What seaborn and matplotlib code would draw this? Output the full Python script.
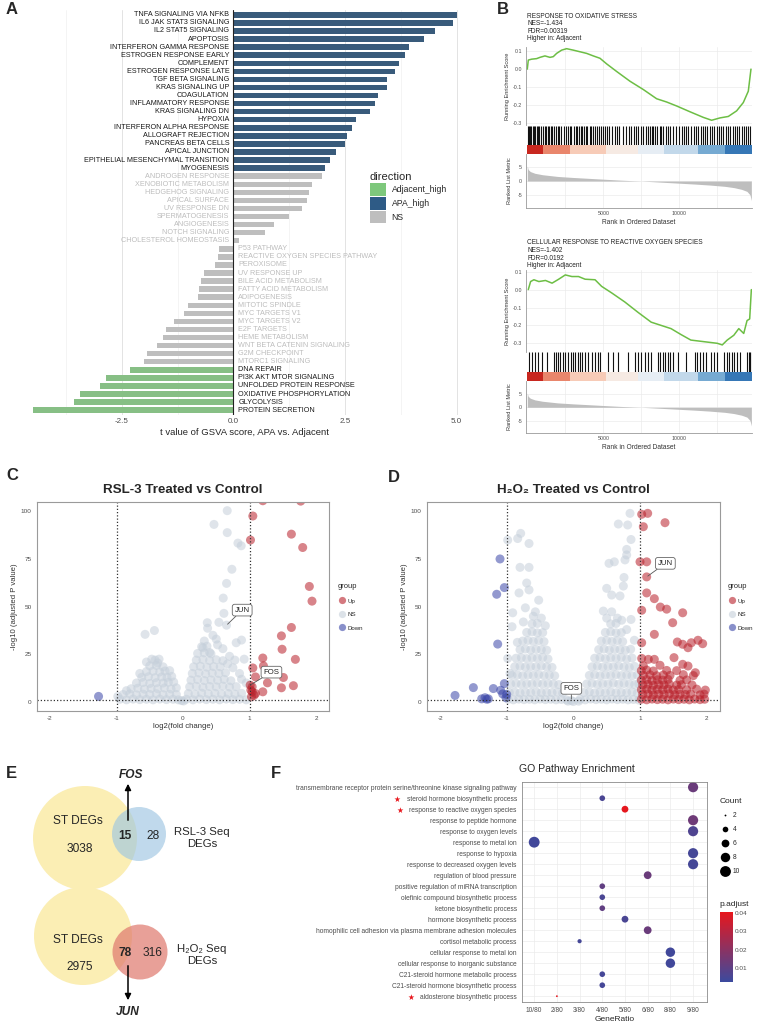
import pandas as pd
import seaborn as sns
import matplotlib.pyplot as plt
from matplotlib.patches import Circle, Patch
from matplotlib.lines import Line2D
from matplotlib.colors import LinearSegmentedColormap, Normalize
from matplotlib.colorbar import ColorbarBase

# ---------------- A: GSVA hallmark t values ----------------
hallmark = [
    "TNFA SIGNALING VIA NFKB", "IL6 JAK STAT3 SIGNALING", "IL2 STAT5 SIGNALING", "APOPTOSIS",
    "INTERFERON GAMMA RESPONSE", "ESTROGEN RESPONSE EARLY", "COMPLEMENT", "ESTROGEN RESPONSE LATE",
    "TGF BETA SIGNALING", "KRAS SIGNALING UP", "COAGULATION", "INFLAMMATORY RESPONSE",
    "KRAS SIGNALING DN", "HYPOXIA", "INTERFERON ALPHA RESPONSE", "ALLOGRAFT REJECTION",
    "PANCREAS BETA CELLS", "APICAL JUNCTION", "EPITHELIAL MESENCHYMAL TRANSITION", "MYOGENESIS",
    "ANDROGEN RESPONSE", "XENOBIOTIC METABOLISM", "HEDGEHOG SIGNALING", "APICAL SURFACE",
    "UV RESPONSE DN", "SPERMATOGENESIS", "ANGIOGENESIS", "NOTCH SIGNALING", "CHOLESTEROL HOMEOSTASIS",
    "P53 PATHWAY", "REACTIVE OXYGEN SPECIES PATHWAY", "PEROXISOME", "UV RESPONSE UP",
    "BILE ACID METABOLISM", "FATTY ACID METABOLISM", "ADIPOGENESIS", "MITOTIC SPINDLE",
    "MYC TARGETS V1", "MYC TARGETS V2", "E2F TARGETS", "HEME METABOLISM",
    "WNT BETA CATENIN SIGNALING", "G2M CHECKPOINT", "MTORC1 SIGNALING", "DNA REPAIR",
    "PI3K AKT MTOR SIGNALING", "UNFOLDED PROTEIN RESPONSE", "OXIDATIVE PHOSPHORYLATION",
    "GLYCOLYSIS", "PROTEIN SECRETION"]
t_value = [5.01, 4.92, 4.51, 4.26, 3.94, 3.84, 3.72, 3.63, 3.44, 3.44,
           3.23, 3.18, 3.05, 2.75, 2.65, 2.54, 2.49, 2.29, 2.17, 2.06,
           1.99, 1.76, 1.69, 1.64, 1.53, 1.24, 0.92, 0.71, 0.13,
           -0.33, -0.35, -0.41, -0.65, -0.73, -0.77, -0.80, -1.02, -1.10, -1.32,
           -1.50, -1.58, -1.70, -1.94, -2.00,
           -2.31, -2.85, -2.98, -3.44, -3.56, -4.49]
direction = ["APA_high"] * 20 + ["NS"] * 24 + ["Adjacent_high"] * 6
dir_order = ["Adjacent_high", "APA_high", "NS"]

# ---------------- B: GSEA running scores ----------------
ox_title = "RESPONSE TO OXIDATIVE STRESS\nNES=-1.434\nFDR=0.00319\nHigher in: Adjacent"
ox_rank = [0, 66, 285, 614, 833, 1162, 1491, 1710, 1930, 2259, 2588, 3026, 3465, 3904, 4342,
           4781, 5219, 5877, 6754, 7632, 8509, 9167, 9825, 10702, 11579, 12127, 12676, 13224,
           13772, 14211, 14540, 14715]
ox_es = [0.0, 0.05, 0.055, 0.058, 0.065, 0.073, 0.065, 0.069, 0.087, 0.105, 0.113, 0.105, 0.096,
         0.087, 0.073, 0.06, 0.029, -0.013, -0.067, -0.113, -0.164, -0.182, -0.204, -0.236,
         -0.267, -0.283, -0.27, -0.262, -0.231, -0.185, -0.122, 0.0]
ox_hits = [30, 110, 190, 260, 380, 430, 520, 610, 700, 760, 900, 1010, 1150, 1230, 1330, 1420,
           1560, 1650, 1780, 1900, 1990, 2080, 2230, 2400, 2520, 2650, 2800, 2860, 3050, 3180,
           3260, 3400, 3520, 3610, 3750, 3880, 3960, 4100, 4200, 4330, 4450, 4600, 4700, 4820,
           4950, 5100, 5250, 5400, 5600, 5750, 5900, 6050, 6300, 6500, 6700, 6850, 7000, 7150,
           7300, 7500, 7620, 7800, 7950, 8100, 8180, 8260, 8400, 8550, 8700, 8800, 8950, 9100,
           9250, 9400, 9600, 9800, 10000, 10150, 10300, 10450, 10600, 10800, 10950, 11100,
           11250, 11400, 11550, 11700, 11850, 12000, 12150, 12300, 12450, 12600, 12750, 12900,
           13050, 13200, 13350, 13500, 13650, 13800, 13950, 14100, 14250, 14400, 14550, 14650]

ros_title = "CELLULAR RESPONSE TO REACTIVE OXYGEN SPECIES\nNES=-1.402\nFDR=0.0192\nHigher in: Adjacent"
ros_rank = [65, 217, 435, 761, 1196, 1630, 2065, 2500, 2935, 3370, 3804, 4457, 4891, 5543, 6413,
            7283, 8152, 8804, 9457, 10109, 10761, 11630, 12500, 12826, 13152, 13587, 13913,
            14239, 14457, 14630, 14740]
ros_es = [0.0, 0.045, 0.055, 0.045, 0.051, 0.036, 0.058, 0.082, 0.073, 0.073, 0.058, 0.055,
          0.018, -0.018, -0.069, -0.127, -0.182, -0.2, -0.218, -0.251, -0.282, -0.291, -0.3,
          -0.309, -0.282, -0.255, -0.218, -0.245, -0.173, -0.164, 0.0]
ros_hits = [109, 283, 500, 717, 978, 1304, 1739, 1891, 2022, 2174, 2326, 2500, 2674, 2848, 3022,
            3152, 3326, 3478, 3630, 3804, 4022, 4239, 4457, 4630, 4804, 5326, 5652, 5978, 6630,
            7065, 7283, 7500, 7717, 7935, 8109, 8587, 8761, 8913, 9065, 9239, 9413, 9565, 9891,
            10435, 11022, 11196, 11370, 11543, 11739, 12065, 12283, 12500, 12935, 13109, 13283,
            13457, 13630, 13804, 13978, 14457, 14565, 14674, 14761]

metric_rank = [0, 60, 200, 500, 1000, 2000, 3000, 4000, 5000, 6000, 7000, 7500, 8000, 9000,
               10000, 11000, 12000, 13000, 13600, 14100, 14450, 14650, 14740]
metric_value = [5.2, 4.0, 3.3, 2.7, 2.2, 1.6, 1.25, 0.95, 0.65, 0.35, 0.1, 0.0, -0.15, -0.45,
                -0.75, -1.05, -1.4, -1.85, -2.3, -2.9, -3.6, -4.8, -6.8]
strip_edges = [0, 1050, 2800, 5200, 7300, 9000, 11200, 13000, 14760]
strip_level = [1.0, 0.72, 0.42, 0.15, -0.1, -0.35, -0.62, -0.9]

# ---------------- C/D: volcano points (log2FC, -log10 padj) ----------------
c_ns = [(0.665, 100.3), (0.466, 93.1), (0.665, 88.8), (0.826, 83.3), (0.875, 81.9), (0.735, 69.6),
        (0.655, 62.2), (0.605, 54.5), (0.615, 46.5), (0.54, 41.8), (0.365, 41.6), (0.37, 38.7),
        (-0.57, 35.5), (-0.43, 37.5), (0.80, 31.1), (0.88, 32.5), (0.45, 35), (0.52, 30),
        (0.6, 28), (0.7, 24), (0.78, 22), (0.85, 15), (0.92, 22.5), (0.88, 12), (0.95, 10),
        (0.5, 33), (0.3, 28.5), (0.4, 26), (0.67, 20), (0.75, 18), (-0.55, 21), (-0.38, 20.5),
        (-0.85, 6), (-0.65, 15), (-0.47, 22.5), (0.655, 40.3), (-0.98, 3), (-0.02, 0.8), (0.01, 0.6),
        (-0.95, 1.5), (-0.85, 1.2), (-0.75, 1.6), (-0.65, 1.3), (-0.55, 1.5), (-0.45, 1.2),
        (-0.35, 1.6), (-0.25, 1.3), (-0.15, 1.5), (-0.07, 1.2),
        (-0.9, 4), (-0.8, 4.3), (-0.7, 3.8), (-0.6, 4.2), (-0.5, 4), (-0.4, 4.4), (-0.3, 3.9),
        (-0.2, 4.1), (-0.1, 4),
        (-0.78, 7), (-0.68, 7.3), (-0.58, 6.8), (-0.48, 7.2), (-0.38, 7), (-0.28, 7.4),
        (-0.18, 6.9), (-0.1, 7.5),
        (-0.7, 10), (-0.6, 10.3), (-0.5, 9.8), (-0.4, 10.2), (-0.3, 10), (-0.22, 10.4), (-0.14, 10.5),
        (-0.62, 13), (-0.52, 13.3), (-0.42, 12.8), (-0.32, 13.2), (-0.24, 13), (-0.17, 13.5),
        (-0.55, 16), (-0.45, 16.2), (-0.35, 15.8), (-0.27, 16.3), (-0.2, 16.5),
        (-0.5, 19), (-0.4, 19.2), (-0.3, 18.5), (-0.42, 22), (-0.36, 22.5),
        (0.05, 1.5), (0.15, 1.2), (0.25, 1.6), (0.35, 1.3), (0.45, 1.5), (0.55, 1.2), (0.65, 1.6),
        (0.75, 1.3), (0.85, 1.5), (0.95, 1.2),
        (0.08, 4.5), (0.18, 4.2), (0.28, 4.7), (0.38, 4.4), (0.48, 4.6), (0.58, 4.3), (0.68, 4.5),
        (0.78, 4.2), (0.88, 4.6),
        (0.1, 8), (0.2, 8.3), (0.3, 7.8), (0.4, 8.2), (0.5, 8), (0.6, 8.4), (0.7, 7.9), (0.8, 8.1),
        (0.12, 11.5), (0.22, 11.8), (0.32, 11.3), (0.42, 11.6), (0.52, 11.5), (0.62, 11.9), (0.72, 11.2),
        (0.14, 15), (0.24, 15.3), (0.34, 14.8), (0.44, 15.2), (0.54, 15), (0.64, 15.4),
        (0.16, 18.5), (0.26, 18.8), (0.36, 18.3), (0.46, 18.6), (0.56, 18.5),
        (0.2, 22), (0.3, 22.3), (0.4, 21.8), (0.5, 22.2), (0.6, 21.7),
        (0.22, 25.5), (0.32, 25.8), (0.42, 25.3), (0.28, 29), (0.36, 29.3), (0.32, 32)]
c_up = [(1.2, 105.5), (1.77, 105.3), (1.05, 97.5), (1.015, 84.9), (1.63, 88), (1.80, 81),
        (1.90, 60.6), (1.94, 52.9), (1.63, 39.1), (1.48, 34.7), (1.49, 27.7), (1.69, 22.4),
        (1.20, 23.1), (1.21, 19), (1.05, 17.9), (1.09, 13.2), (1.27, 10.1), (1.51, 12.9),
        (1.48, 7.5), (1.66, 8.6), (1.20, 5.4), (1.04, 8), (1.04, 5.4), (1.07, 3.6), (1.09, 4.5),
        (1.03, 2.8), (1.02, 6.3), (1.01, 8.9)]
c_down = [(-1.27, 3.0)]

d_ns = [(-0.985, 84.9), (-0.835, 85.7), (-0.79, 88.4), (-0.665, 83.1), (-0.8, 70.6), (-0.665, 70.6),
        (-0.70, 62.4), (-0.665, 58.8), (-0.815, 57.2), (-0.91, 46.8), (-0.72, 49.4), (-0.52, 53.4),
        (-0.57, 47.3), (-0.92, 39.5), (-0.84, 31.3), (-0.985, 22.9), (-0.95, 15), (-0.6, 45),
        (-0.48, 44), (-0.75, 42), (-0.42, 40),
        (0.85, 98.9), (0.675, 93.3), (0.815, 92.8), (0.865, 85.2), (0.8, 80), (0.8, 77.1),
        (0.775, 74.5), (0.535, 72.7), (0.615, 73.5), (0.76, 65.3), (0.75, 60.8), (0.5, 59.6),
        (0.575, 56.1), (0.70, 55.6), (0.45, 47.7), (0.575, 47.3), (0.725, 42.9), (0.865, 43.3),
        (0.915, 32.4), (0.5, 44), (0.66, 44), (0.8, 38),
        (-0.08, 0.5), (0.0, 0.3), (0.08, 0.5), (-0.03, 0.8),
        (-0.98, 1.5), (-0.9, 1.2), (-0.82, 1.6), (-0.74, 1.3), (-0.66, 1.5), (-0.58, 1.2),
        (-0.5, 1.6), (-0.42, 1.3), (-0.34, 1.5), (-0.26, 1.2), (-0.18, 1.4), (-0.1, 1.1),
        (-0.96, 5), (-0.88, 5.3), (-0.8, 4.8), (-0.72, 5.2), (-0.64, 5), (-0.56, 5.4), (-0.48, 4.9),
        (-0.4, 5.1), (-0.32, 5), (-0.24, 5.3), (-0.16, 4.7),
        (-0.94, 9.5), (-0.86, 9.8), (-0.78, 9.3), (-0.7, 9.6), (-0.62, 9.5), (-0.54, 9.9),
        (-0.46, 9.4), (-0.38, 9.7), (-0.3, 9.5), (-0.22, 9.2),
        (-0.92, 14), (-0.84, 14.3), (-0.76, 13.8), (-0.68, 14.2), (-0.6, 14), (-0.52, 14.4),
        (-0.44, 13.9), (-0.36, 14.1), (-0.28, 13.8),
        (-0.88, 18.5), (-0.8, 18.8), (-0.72, 18.3), (-0.64, 18.6), (-0.56, 18.5), (-0.48, 18.9),
        (-0.4, 18.4), (-0.32, 18.2),
        (-0.86, 23), (-0.78, 23.3), (-0.7, 22.8), (-0.62, 23.2), (-0.54, 23), (-0.46, 23.4), (-0.38, 22.6),
        (-0.8, 27.5), (-0.72, 27.8), (-0.64, 27.3), (-0.56, 27.6), (-0.48, 27.5), (-0.4, 27.2),
        (-0.76, 32), (-0.68, 32.3), (-0.6, 31.8), (-0.52, 32.2), (-0.44, 31.7),
        (-0.7, 36.5), (-0.62, 36.8), (-0.54, 36.3), (-0.46, 36.4), (-0.62, 41), (-0.54, 41.2),
        (0.1, 1.5), (0.18, 1.2), (0.26, 1.6), (0.34, 1.3), (0.42, 1.5), (0.5, 1.2), (0.58, 1.6),
        (0.66, 1.3), (0.74, 1.5), (0.82, 1.2), (0.9, 1.4), (0.98, 1.1),
        (0.16, 5), (0.24, 5.3), (0.32, 4.8), (0.4, 5.2), (0.48, 5), (0.56, 5.4), (0.64, 4.9),
        (0.72, 5.1), (0.8, 5), (0.88, 5.3), (0.96, 4.7),
        (0.2, 9.5), (0.28, 9.8), (0.36, 9.3), (0.44, 9.6), (0.52, 9.5), (0.6, 9.9), (0.68, 9.4),
        (0.76, 9.7), (0.84, 9.5), (0.92, 9.2), (0.98, 9.6),
        (0.24, 14), (0.32, 14.3), (0.4, 13.8), (0.48, 14.2), (0.56, 14), (0.64, 14.4), (0.72, 13.9),
        (0.8, 14.1), (0.88, 13.8), (0.96, 14.2),
        (0.28, 18.5), (0.36, 18.8), (0.44, 18.3), (0.52, 18.6), (0.6, 18.5), (0.68, 18.9),
        (0.76, 18.4), (0.84, 18.2), (0.92, 18.7),
        (0.32, 23), (0.4, 23.3), (0.48, 22.8), (0.56, 23.2), (0.64, 23), (0.72, 23.4), (0.8, 22.6),
        (0.88, 23.1),
        (0.38, 27.5), (0.46, 27.8), (0.54, 27.3), (0.62, 27.6), (0.7, 27.5), (0.78, 27.2), (0.86, 27.7),
        (0.42, 32), (0.5, 32.3), (0.58, 31.8), (0.66, 32.2), (0.74, 31.7),
        (0.48, 36.5), (0.56, 36.8), (0.64, 36.3), (0.72, 36.4), (0.56, 41), (0.64, 41.2)]
d_up = [(1.025, 98.4), (1.115, 98.9), (1.05, 91.9), (1.375, 94), (1.0, 73.5), (1.1, 73.5),
        (1.1, 65.6), (1.1, 57.2), (1.025, 48.1), (1.215, 54.2), (1.305, 49.8), (1.4, 48.7),
        (1.64, 46.8), (1.49, 41.6), (1.215, 35.5), (1.025, 31.1), (1.56, 31.5), (1.64, 30.3),
        (1.72, 28.5), (1.77, 31.1), (1.87, 32.4), (1.94, 30.6), (1.025, 22.9), (1.125, 22.4),
        (1.215, 22.4), (1.51, 23.3), (1.64, 19.8), (1.72, 18.9), (1.83, 15.4),
        (1.02, 1.5), (1.1, 1.2), (1.18, 1.6), (1.26, 1.3), (1.34, 1.5), (1.42, 1.2), (1.5, 1.6),
        (1.58, 1.3), (1.66, 1.5), (1.74, 1.2), (1.82, 1.6), (1.9, 1.3), (1.97, 1.5),
        (1.04, 4), (1.12, 4.3), (1.2, 3.8), (1.28, 4.2), (1.36, 4), (1.44, 4.4), (1.52, 3.9),
        (1.6, 4.1), (1.68, 4), (1.76, 4.3), (1.9, 3.8), (1.96, 4.2),
        (1.02, 6.5), (1.1, 6.8), (1.18, 6.3), (1.26, 6.7), (1.34, 6.5), (1.42, 6.9), (1.5, 6.4),
        (1.58, 6.6), (1.7, 6.5), (1.85, 6.8), (1.98, 6.3),
        (1.04, 9), (1.12, 9.3), (1.2, 8.8), (1.28, 9.2), (1.36, 9), (1.44, 9.4), (1.55, 8.9),
        (1.62, 9.1), (1.78, 9),
        (1.02, 11.5), (1.1, 11.8), (1.18, 11.3), (1.26, 11.7), (1.34, 11.5), (1.42, 11.9),
        (1.6, 11.4), (1.7, 11.6),
        (1.05, 14), (1.15, 14.3), (1.25, 13.8), (1.35, 14.2), (1.45, 14), (1.65, 14.4), (1.8, 13.9),
        (1.02, 16.5), (1.1, 16.8), (1.2, 16.3), (1.4, 16.6), (1.55, 16.5), (1.05, 19), (1.3, 19.3)]
d_down = [(-1.1, 75), (-1.035, 60), (-1.15, 56.5), (-1.135, 30.4), (-1.035, 9.7), (-1.5, 7.6),
          (-1.2, 7.1), (-1.775, 3.5), (-1.325, 2.3), (-1.375, 1.7), (-1.275, 1.7), (-1.06, 4.3),
          (-1.01, 2.3), (-1.09, 6.2), (-1.0, 4.0), (-1.3, 1.5)]

# ---------------- E: Venn counts ----------------
st_only = [3038, 2975]
shared = [15, 78]
seq_only = [28, 316]
seq_names = ["RSL-3 Seq\nDEGs", "H\u2082O\u2082 Seq\nDEGs"]
shared_gene = ["FOS", "JUN"]

# ---------------- F: GO enrichment ----------------
go_terms = ["transmembrane receptor protein serine/threonine kinase signaling pathway",
            "steroid hormone biosynthetic process", "response to reactive oxygen species",
            "response to peptide hormone", "response to oxygen levels", "response to metal ion",
            "response to hypoxia", "response to decreased oxygen levels",
            "regulation of blood pressure", "positive regulation of miRNA transcription",
            "olefinic compound biosynthetic process", "ketone biosynthetic process",
            "hormone biosynthetic process",
            "homophilic cell adhesion via plasma membrane adhesion molecules",
            "cortisol metabolic process", "cellular response to metal ion",
            "cellular response to inorganic substance", "C21-steroid hormone metabolic process",
            "C21-steroid hormone biosynthetic process", "aldosterone biosynthetic process"]
go_ratio = ["9/80", "4/80", "5/80", "9/80", "9/80", "10/80", "9/80", "9/80", "6/80", "4/80",
            "4/80", "4/80", "5/80", "6/80", "3/80", "8/80", "8/80", "4/80", "4/80", "2/80"]
go_count = [9, 4, 5, 9, 9, 10, 9, 9, 6, 4, 4, 4, 5, 6, 3, 8, 8, 4, 4, 2]
go_padj = [0.013, 0.006, 0.040, 0.014, 0.007, 0.004, 0.005, 0.005, 0.013, 0.011,
           0.006, 0.011, 0.006, 0.013, 0.005, 0.004, 0.004, 0.005, 0.005, 0.040]
ratio_order = ["10/80", "2/80", "3/80", "4/80", "5/80", "6/80", "8/80", "9/80"]
starred = ["steroid hormone biosynthetic process", "response to reactive oxygen species",
           "aldosterone biosynthetic process"]

# ================= drawing =================
sns.set_theme(style="white")
plt.rcParams['font.family'] = ['Liberation Sans', 'DejaVu Sans']
plt.rcParams['axes.unicode_minus'] = False
TICK = '#4D4D4D'

W, H = 765, 1024
fig = plt.figure(figsize=(W / 100, H / 100), dpi=100)


def px_axes(l, t, r, b):
    return fig.add_axes([l / W, 1 - b / H, (r - l) / W, (b - t) / H])


def fx(x):
    return x / W


def fy(y):
    return 1 - y / H


for letter, x, y in [("A", 6, 10), ("B", 497, 9), ("C", 6, 476), ("D", 388, 477),
                     ("E", 6, 773), ("F", 271, 773)]:
    fig.text(fx(x), fy(y), letter, fontsize=12, fontweight='bold', ha='left', va='center')

# ---- A ----
dir_colors = {"Adjacent_high": "#7EC87C", "APA_high": "#2E5B86", "NS": "#BEBEBE"}
axA = px_axes(28, 10, 462, 415)
dfA = pd.DataFrame({"pathway": hallmark, "t": t_value, "direction": direction})
sns.barplot(data=dfA, x="t", y="pathway", hue="direction", palette=dir_colors, dodge=False,
            width=0.68, orient="h", legend=False, linewidth=0, ax=axA)
axA.set_ylim(49.6, -0.6)
axA.set_xlim(-4.6, 5.12)
axA.set_yticks([])
axA.set_ylabel("")
axA.set_xticks([-2.5, 0, 2.5, 5.0])
axA.set_xticklabels(["-2.5", "0.0", "2.5", "5.0"])
axA.set_xticks([-3.75, -1.25, 1.25, 3.75], minor=True)
axA.grid(axis='x', which='major', color='#E3E3E3', lw=0.7)
axA.grid(axis='x', which='minor', color='#F0F0F0', lw=0.5)
axA.set_axisbelow(True)
for s in axA.spines.values():
    s.set_visible(False)
axA.axvline(0, color='#222222', lw=0.8)
axA.tick_params(axis='x', which='both', length=0, labelsize=5.8, labelcolor=TICK, pad=2)
axA.set_xlabel("t value of GSVA score, APA vs. Adjacent", fontsize=6.8, labelpad=2)
for i, (name, t, d) in enumerate(zip(hallmark, t_value, direction)):
    col = '#BDBDBD' if d == "NS" else '#1A1A1A'
    if t > 0:
        axA.text(-0.09, i, name, ha='right', va='center', fontsize=5.2, color=col)
    else:
        axA.text(0.11, i, name, ha='left', va='center', fontsize=5.2, color=col)
handles = [Patch(facecolor=dir_colors[k], edgecolor='none') for k in dir_order]
legA = fig.legend(handles, dir_order, title="direction", loc="upper left",
                  bbox_to_anchor=(fx(370), fy(172)), frameon=False, fontsize=6.2,
                  title_fontsize=8, handlelength=1.9, handleheight=1.9, labelspacing=0.12,
                  handletextpad=0.6, borderpad=0, borderaxespad=0)
legA._legend_box.align = "left"

# ---- B ----
GREEN = '#6DBE45'
strip_cmap = LinearSegmentedColormap.from_list(
    "strip", ["#2166AC", "#6AA3CE", "#C6DBEB", "#F3F5F8", "#FADCCB", "#F09A7C", "#C8271F"])


def gsea_panel(ys, title, es_rank, es_score, hits, es_ticks):
    t_title, es_t, es_b, hit_b, strip_b, rank_b = ys
    L, R = 525.7, 751.7
    xl = (-105, 14763)
    fig.text(fx(527), fy(t_title), title, fontsize=4.7, ha='left', va='top',
             linespacing=1.12, color='#222222')
    ax = px_axes(L, es_t, R, es_b)
    sns.lineplot(x=es_rank, y=es_score, color=GREEN, lw=1.1, ax=ax)
    ax.set_xlim(*xl)
    ax.set_ylim(es_ticks[1], es_ticks[0])
    ax.set_yticks(es_ticks[2])
    ax.set_yticklabels([f"{v:.1f}" for v in es_ticks[2]])
    ax.set_xticks([2500, 5000, 7500, 10000, 12500])
    ax.set_xticklabels([])
    ax.grid(True, color='#EBEBEB', lw=0.5)
    for k, s in ax.spines.items():
        s.set_visible(k == 'left')
        s.set_color('#9A9A9A')
        s.set_linewidth(0.6)
    ax.tick_params(length=1.5, width=0.4, color='#9A9A9A', labelsize=3.8, labelcolor=TICK, pad=1)
    ax.tick_params(axis='x', length=0)
    ax.set_ylabel("Running Enrichment Score", fontsize=4.1, labelpad=2, color='#333333')
    ax.set_xlabel("")

    axh = px_axes(L, es_b, R, hit_b)
    axh.vlines(hits, 0, 1, color='#111111', lw=0.8)
    axh.set_xlim(*xl)
    axh.set_ylim(0, 1)
    axh.axis('off')

    axs = px_axes(L, hit_b, R, strip_b)
    norm = Normalize(-1, 1)
    for a, b, v in zip(strip_edges[:-1], strip_edges[1:], strip_level):
        axs.axvspan(a, b, color=strip_cmap(norm(v)), lw=0)
    axs.set_xlim(*xl)
    axs.axis('off')

    axr = px_axes(L, strip_b, R, rank_b)
    axr.fill_between(metric_rank, 0, metric_value, color='#BEBEBE', lw=0)
    axr.set_xlim(*xl)
    axr.set_ylim(-9.4, 9.6)
    axr.set_yticks([5, 0, -5])
    axr.set_yticklabels(["5", "0", "-5"])
    axr.set_xticks([5000, 10000])
    axr.set_xticklabels(["5000", "10000"])
    axr.set_xticks([2500, 7500, 12500], minor=True)
    axr.grid(True, which='both', axis='x', color='#EBEBEB', lw=0.5)
    axr.grid(True, which='major', axis='y', color='#EBEBEB', lw=0.5)
    for k, s in axr.spines.items():
        s.set_visible(k in ('left', 'bottom'))
        s.set_color('#9A9A9A')
        s.set_linewidth(0.6)
    axr.tick_params(length=1.5, width=0.4, color='#9A9A9A', labelsize=3.8, labelcolor=TICK, pad=1)
    axr.tick_params(axis='x', which='minor', length=0)
    axr.set_ylabel("Ranked List Metric", fontsize=4.1, labelpad=4, color='#333333')
    axr.set_xlabel("Rank in Ordered Dataset", fontsize=4.8, labelpad=2, color='#333333')


gsea_panel([12.5, 46.7, 125.5, 145, 153.5, 208], ox_title, ox_rank, ox_es, ox_hits,
           (0.124, -0.312, [0.1, 0.0, -0.1, -0.2, -0.3]))
gsea_panel([239.5, 270, 352, 372, 381, 433], ros_title, ros_rank, ros_es, ros_hits,
           (0.1095, -0.3486, [0.1, 0.0, -0.1, -0.2, -0.3]))

# ---- C / D ----
grp_colors = {"Up": "#B8202A", "NS": "#C5CFDA", "Down": "#3A46A8"}


def volcano(box, ns, up, down, title, labels, leg_xy):
    ax = px_axes(*box)
    df = pd.DataFrame(ns + up + down, columns=["lfc", "padj"])
    df["group"] = ["NS"] * len(ns) + ["Up"] * len(up) + ["Down"] * len(down)
    sns.scatterplot(data=df, x="lfc", y="padj", hue="group", palette=grp_colors, s=42,
                    alpha=0.55, linewidth=0, legend=False, ax=ax)
    for v in (-1, 1):
        ax.axvline(v, ls=(0, (1, 1.6)), color='#333333', lw=0.9)
    ax.axhline(1.3, ls=(0, (1, 1.6)), color='#333333', lw=0.9)
    ax.set_xlim(-2.2, 2.2)
    ax.set_ylim(-4.5, 105)
    ax.set_xticks([-2, -1, 0, 1, 2])
    ax.set_yticks([0, 25, 50, 75, 100])
    for s in ax.spines.values():
        s.set_color('#9A9A9A')
        s.set_linewidth(0.8)
    ax.tick_params(length=2, width=0.5, color='#9A9A9A', labelsize=4.6, labelcolor=TICK, pad=1.5)
    ax.set_xlabel("log2(fold change)", fontsize=5.6, labelpad=2, color='#333333')
    ax.set_ylabel("-log10 (adjusted P value)", fontsize=5.6, labelpad=2, color='#333333')
    ax.set_title(title, fontsize=9.6, fontweight='bold', pad=6)
    for name, pt, at in labels:
        ax.annotate(name, xy=pt, xytext=at, fontsize=5.6, ha='center', va='center',
                    color='#222222',
                    arrowprops=dict(arrowstyle='-', color='#555555', lw=0.6, shrinkA=0, shrinkB=1),
                    bbox=dict(boxstyle='round,pad=0.3', fc='white', ec='#666666', lw=0.6))
    hs = [Line2D([], [], marker='o', ls='', ms=5.2, mew=0, color=grp_colors[g], alpha=0.6)
          for g in ["Up", "NS", "Down"]]
    lg = ax.legend(hs, ["Up", "NS", "Down"], title="group", loc="upper left",
                   bbox_to_anchor=(fx(leg_xy[0]), fy(leg_xy[1])), bbox_transform=fig.transFigure,
                   frameon=False, fontsize=4.4, title_fontsize=5.4, labelspacing=1.35,
                   handletextpad=0.4, borderpad=0, borderaxespad=0, handlelength=1.2)
    lg._legend_box.align = "left"


volcano((36.7, 501.7, 329.3, 710.7), c_ns, c_up, c_down, "RSL-3 Treated vs Control",
        [("JUN", (0.655, 40.3), (0.89, 48.2)), ("FOS", (1.01, 8.9), (1.33, 15.7))], (338, 583))
volcano((426.7, 501.7, 720, 710.7), d_ns, d_up, d_down, "H\u2082O\u2082 Treated vs Control",
        [("JUN", (1.1, 65.6), (1.38, 72.7)), ("FOS", (-0.03, 0.9), (-0.03, 7.2))], (728, 583))

# ---- E ----
axE = px_axes(0, 770, 250, 1024)
axE.set_xlim(0, 250)
axE.set_ylim(1024, 770)
axE.axis('off')
venn = [((85, 838), 52, (139, 834), 27, '#9EC6E2', 0.65, 836),
        ((83, 936), 49, (140, 952), 27.5, '#E07B70', 0.72, 953)]
for i, (c1, r1, c2, r2, col, al, yc) in enumerate(venn):
    axE.add_patch(Circle(c1, r1, fc='#FBEEB4', ec='none', zorder=1))
    axE.add_patch(Circle(c2, r2, fc=col, ec='none', alpha=al, zorder=2))
    ytop = 821.5 if i == 0 else 940
    axE.text(78, ytop, "ST DEGs", fontsize=8.6, ha='center', va='center', zorder=5)
    axE.text(80, ytop + 27, str(st_only[i]), fontsize=8.6, ha='center', va='center', zorder=5)
    axE.text(125, yc, str(shared[i]), fontsize=8.6, fontweight='bold', ha='center', va='center', zorder=5)
    axE.text(153, yc, str(seq_only[i]), fontsize=8.6, ha='center', va='center', zorder=5)
    axE.text(202, yc + 2, seq_names[i], fontsize=8.2, ha='center', va='center',
             linespacing=1.3, zorder=5)
axE.annotate('', xy=(128, 781), xytext=(128, 823),
             arrowprops=dict(arrowstyle='-|>', color='black', lw=1.1, mutation_scale=9), zorder=6)
axE.annotate('', xy=(128, 1003), xytext=(128, 963),
             arrowprops=dict(arrowstyle='-|>', color='black', lw=1.1, mutation_scale=9), zorder=6)
fig.text(fx(131), fy(775), shared_gene[0], fontsize=8.6, fontweight='bold', style='italic',
         ha='center', va='center')
fig.text(fx(128), fy(1012), shared_gene[1], fontsize=8.6, fontweight='bold', style='italic',
         ha='center', va='center')

# ---- F ----
padj_cmap = LinearSegmentedColormap.from_list("padj", ["#3C4A9E", "#E8161C"])
padj_norm = Normalize(0.0028, 0.0407)
axF = px_axes(521.7, 781.7, 706.7, 1001.7)
dfF = pd.DataFrame({"term": pd.Categorical(go_terms, categories=go_terms),
                    "GeneRatio": pd.Categorical(go_ratio, categories=ratio_order),
                    "Count": go_count, "p.adjust": go_padj})
sns.scatterplot(data=dfF, x="GeneRatio", y="term", hue="p.adjust", size="Count",
                palette=padj_cmap, hue_norm=padj_norm, sizes=(1.7, 61), size_norm=(2, 10),
                linewidth=0, legend=False, ax=axF)
axF.set_xticks(range(len(ratio_order)))
axF.set_xticklabels(ratio_order)
axF.set_yticks(range(len(go_terms)))
axF.set_yticklabels(go_terms)
axF.set_xlim(-0.55, 7.6)
axF.set_ylim(len(go_terms) - 0.5, -0.5)
axF.grid(True, color='#EBEBEB', lw=0.5)
axF.set_axisbelow(True)
for s in axF.spines.values():
    s.set_color('#8A8A8A')
    s.set_linewidth(0.6)
axF.tick_params(length=2, width=0.4, color='#8A8A8A', labelsize=4.8, labelcolor=TICK, pad=1.5)
axF.set_xlabel("GeneRatio", fontsize=6, labelpad=1.5)
axF.set_ylabel("")
axF.set_title("GO Pathway Enrichment", fontsize=7.6, pad=7, x=0.3)

size_h = [Line2D([], [], marker='o', ls='', color='black', mew=0,
                 ms=(1.7 + (c - 2) / 8 * (61 - 1.7)) ** 0.5) for c in [2, 4, 6, 8, 10]]
legF = fig.legend(size_h, ["2", "4", "6", "8", "10"], title="Count", loc="upper left",
                  bbox_to_anchor=(fx(720), fy(798)), frameon=False, fontsize=4.8,
                  title_fontsize=6, labelspacing=1.05, handletextpad=0.5, borderpad=0,
                  borderaxespad=0, handlelength=1.4)
legF._legend_box.align = "left"

cax = px_axes(720, 911.7, 733, 981.7)
cb = ColorbarBase(cax, cmap=padj_cmap, norm=padj_norm, ticks=[0.01, 0.02, 0.03, 0.04])
cb.outline.set_visible(False)
cax.tick_params(length=2.5, width=0.5, color='white', direction='in', labelsize=4.6,
                labelcolor=TICK, pad=1.5)
fig.text(fx(719), fy(904), "p.adjust", fontsize=6, ha='left', va='center')

fig.canvas.draw()
for lbl in axF.get_yticklabels():
    if lbl.get_text() in starred:
        bb = lbl.get_window_extent()
        fig.text(fx(bb.x0 - 9.5), (bb.y0 + bb.y1) / 2 / H, "\u2605", color='#E8161C',
                 fontsize=5.5, ha='center', va='center', family='DejaVu Sans')

fig.savefig("out.png", dpi=100)
